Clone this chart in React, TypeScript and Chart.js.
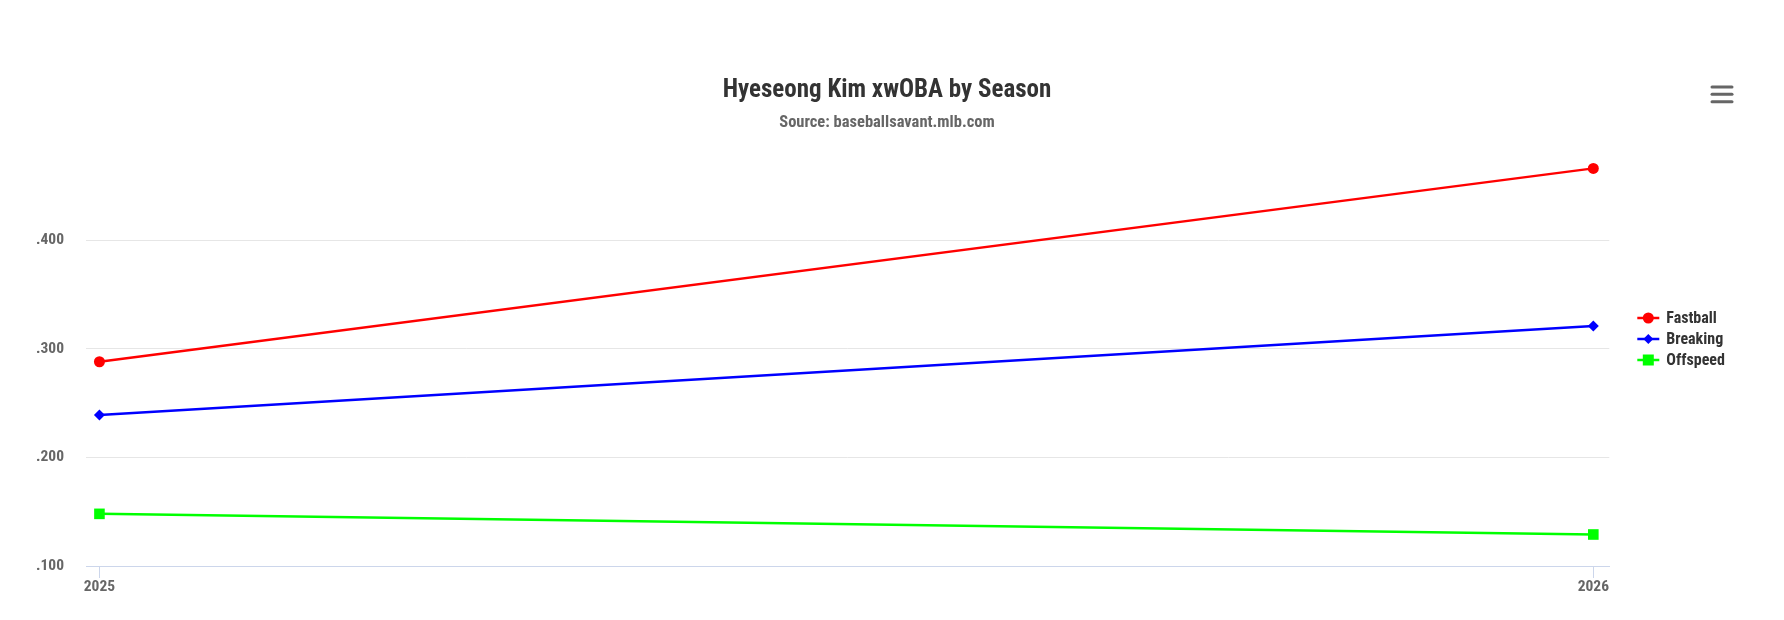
import React, { useEffect, useRef } from 'react';
import { Chart, registerables } from 'chart.js';

Chart.register(...registerables);

const seasons = [2025, 2026];
const fastball = [0.288, 0.466];
const breaking = [0.239, 0.321];
const offspeed = [0.148, 0.129];
const seriesNames = ['Fastball', 'Breaking', 'Offspeed'];
const seriesColors = ['#ff0000', '#0000ff', '#00ff00'];
const seriesPointStyles = ['circle', 'rectRot', 'rect'];
const yTickValues = [0.1, 0.2, 0.3, 0.4];
const titleText = 'Hyeseong Kim xwOBA by Season';
const subtitleText = 'Source: baseballsavant.mlb.com';

const FAMILY = 'Roboto, "Noto Sans", sans-serif';
const WEIGHT = 'bold condensed';

const legendPlugin = {
  id: 'customLegend',
  afterDraw(chart: any) {
    const ctx = chart.ctx;
    const x0 = chart.chartArea.right + 28;
    const yStart = 318;
    const rowH = 21;
    chart.data.datasets.forEach((ds: any, i: number) => {
      const y = yStart + i * rowH;
      ctx.save();
      ctx.strokeStyle = ds.borderColor;
      ctx.fillStyle = ds.borderColor;
      ctx.lineWidth = 2.5;
      ctx.beginPath();
      ctx.moveTo(x0, y);
      ctx.lineTo(x0 + 22, y);
      ctx.stroke();
      const cx = x0 + 11;
      ctx.beginPath();
      if (ds.pointStyle === 'circle') {
        ctx.arc(cx, y, 5.5, 0, Math.PI * 2);
      } else if (ds.pointStyle === 'rectRot') {
        ctx.moveTo(cx, y - 5);
        ctx.lineTo(cx + 5, y);
        ctx.lineTo(cx, y + 5);
        ctx.lineTo(cx - 5, y);
        ctx.closePath();
      } else {
        ctx.rect(cx - 5.5, y - 5.5, 11, 11);
      }
      ctx.fill();
      ctx.font = `${WEIGHT} 16px ${FAMILY}`;
      ctx.fillStyle = '#333333';
      ctx.textBaseline = 'middle';
      ctx.textAlign = 'left';
      ctx.fillText(ds.label, x0 + 29, y + 1);
      ctx.restore();
    });
  },
};

const menuPlugin = {
  id: 'menuIcon',
  afterDraw(chart: any) {
    const ctx = chart.ctx;
    ctx.save();
    ctx.strokeStyle = '#666666';
    ctx.lineWidth = 3;
    ctx.lineCap = 'round';
    [87, 94.3, 101.7].forEach((y) => {
      ctx.beginPath();
      ctx.moveTo(1712, y);
      ctx.lineTo(1732, y);
      ctx.stroke();
    });
    ctx.restore();
  },
};

export default function App() {
  const ref = useRef<HTMLCanvasElement | null>(null);

  useEffect(() => {
    if (!ref.current) return;
    const mk = (vals: number[]) => seasons.map((s, i) => ({ x: s, y: vals[i] }));
    const seriesValues = [fastball, breaking, offspeed];
    const radii = [5.5, 5.5, 7.5];
    const chart = new Chart(ref.current, {
      type: 'line',
      data: {
        datasets: seriesNames.map((name, i) => ({
          label: name,
          data: mk(seriesValues[i]),
          borderColor: seriesColors[i],
          backgroundColor: seriesColors[i],
          pointBackgroundColor: seriesColors[i],
          pointBorderWidth: 0,
          pointStyle: seriesPointStyles[i] as any,
          pointRadius: radii[i],
          pointHoverRadius: radii[i],
          borderWidth: 2.5,
          tension: 0,
          clip: false as any,
          yAxisID: 'y',
        })),
      },
      options: {
        responsive: false,
        animation: false,
        devicePixelRatio: 1,
        layout: { padding: { left: 0, right: 10, top: 0, bottom: 0 } },
        plugins: {
          legend: { display: false },
          tooltip: { enabled: false },
          title: {
            display: true,
            text: titleText,
            color: '#333333',
            font: { family: FAMILY, size: 25, weight: WEIGHT as any },
            padding: { top: 75.4, bottom: 4 },
          },
          subtitle: {
            display: true,
            text: subtitleText,
            color: '#666666',
            font: { family: FAMILY, size: 16.5, weight: WEIGHT as any },
            padding: { top: 3.1, bottom: 26.3 },
          },
        },
        scales: {
          x: {
            type: 'linear',
            min: 2024.991,
            max: 2026.0107,
            grid: { drawOnChartArea: false, drawTicks: true, tickLength: 12, color: '#ccd6eb' },
            border: { display: true, color: '#ccd6eb', width: 1 },
            ticks: {
              padding: 0,
              color: '#666666',
              maxRotation: 0,
              autoSkip: false,
              font: { family: FAMILY, size: 15.5, weight: WEIGHT as any },
              callback: (v: any) => String(v),
            },
            afterBuildTicks: (s: any) => {
              s.ticks = seasons.map((v) => ({ value: v }));
            },
            afterFit: (s: any) => {
              s.height = 54;
            },
          },
          y: {
            type: 'linear',
            position: 'left',
            min: 0.1,
            max: 0.475,
            border: { display: false },
            grid: {
              drawTicks: false,
              color: (c: any) => (c.tick && Math.abs(c.tick.value - 0.1) < 1e-9 ? 'rgba(0,0,0,0)' : '#e6e6e6'),
              lineWidth: 1,
            },
            ticks: {
              padding: 22,
              color: '#666666',
              font: { family: FAMILY, size: 15.5, weight: WEIGHT as any },
              callback: (v: any) => '.' + String(Math.round(Number(v) * 1000)).padStart(3, '0'),
            },
            afterBuildTicks: (s: any) => {
              s.ticks = yTickValues.map((v) => ({ value: v }));
            },
            afterFit: (s: any) => {
              s.width = 86;
            },
          },
          yRight: {
            type: 'linear',
            position: 'right',
            min: 0.1,
            max: 0.475,
            display: true,
            border: { display: false },
            grid: { display: false, drawOnChartArea: false, drawTicks: false },
            ticks: { display: false },
            afterFit: (s: any) => {
              s.width = 164.7;
            },
          },
        },
      },
      plugins: [legendPlugin, menuPlugin],
    });
    return () => chart.destroy();
  }, []);

  return (
    <div style={{ position: 'absolute', left: 0, top: 0, width: 1784, height: 620, background: '#ffffff' }}>
      <canvas ref={ref} width={1784} height={620} />
    </div>
  );
}
